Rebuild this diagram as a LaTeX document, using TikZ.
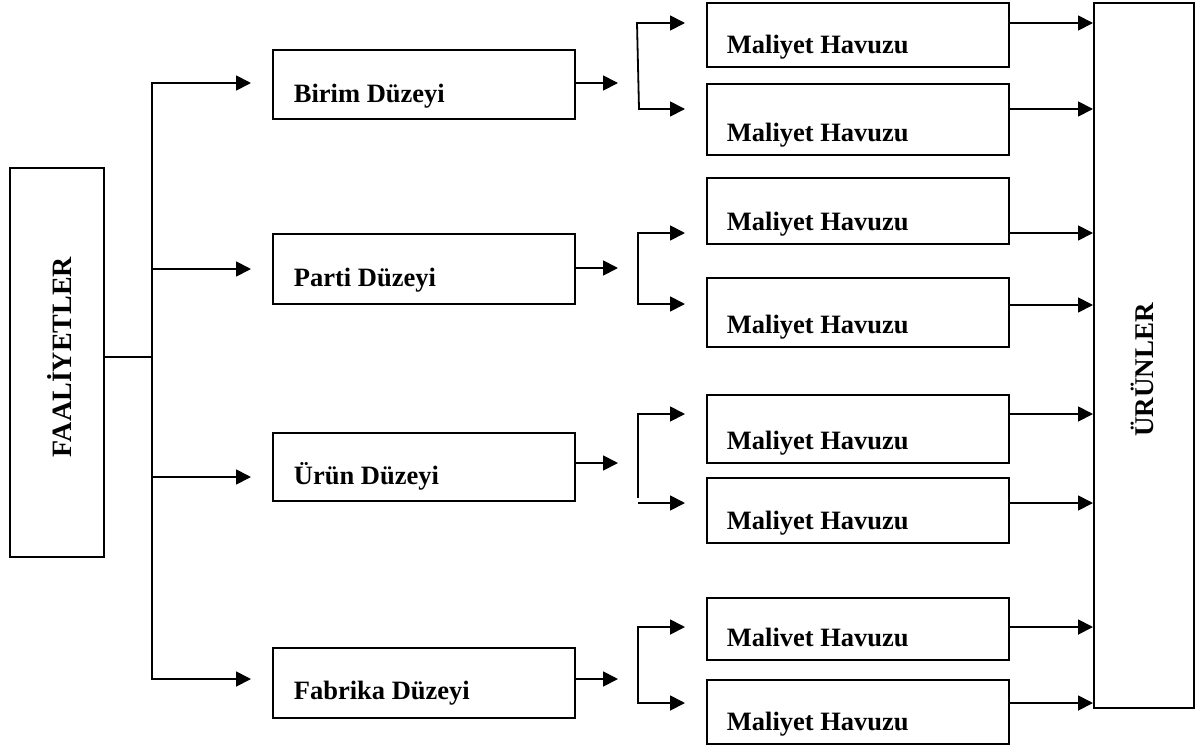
\documentclass[tikz,border=0pt]{standalone}
\usepackage{fontspec}
\setmainfont{Liberation Serif}
\usetikzlibrary{arrows.meta,calc}
\begin{document}
\begin{tikzpicture}[x=1pt,y=-1pt,line width=1.8pt,
  box/.style={draw,rectangle,inner sep=0pt,anchor=north west},
  lbl/.style={anchor=base west,inner sep=0pt,font=\bfseries\fontsize{26.5}{30}\selectfont},
  vlbl/.style={anchor=base,inner sep=0pt,rotate=90},
  tip/.style={Triangle[length=15pt,width=15pt]},
  arr/.style={-{Triangle[length=15pt,width=15pt]}},
  arrs/.style={{Triangle[length=15pt,width=15pt]}-{Triangle[length=15pt,width=15pt]}}]
\useasboundingbox (0,0) rectangle (1196,747);

% outer boxes
\node[box,minimum width=94pt,minimum height=389pt] (faal) at (9,167) {};
\node[vlbl,font=\bfseries\fontsize{28}{30}\selectfont] at (71,357) {FAALİYETLER};
\node[box,minimum width=100pt,minimum height=705pt] (urunler) at (1093,2) {};
\node[vlbl,font=\bfseries\fontsize{27}{30}\selectfont] at (1153,370) {ÜRÜNLER};

% activity levels
\node[box,minimum width=302pt,minimum height=69pt] (birim) at (272,49) {};
\node[lbl] at ($(birim.south west)+(21,-17)$) {Birim Düzeyi};
\node[box,minimum width=302pt,minimum height=70pt] (parti) at (272,233) {};
\node[lbl] at ($(parti.south west)+(21,-18)$) {Parti Düzeyi};
\node[box,minimum width=302pt,minimum height=68pt] (urun) at (272,432) {};
\node[lbl] at ($(urun.south west)+(21,-17)$) {Ürün Düzeyi};
\node[box,minimum width=302pt,minimum height=70pt] (fabrika) at (272,647) {};
\node[lbl] at ($(fabrika.south west)+(21,-19)$) {Fabrika Düzeyi};

% cost pools
\node[box,minimum width=302pt,minimum height=64pt] (m1a) at (706,2) {};
\node[lbl] at ($(m1a.south west)+(20,-14)$) {Maliyet Havuzu};
\node[box,minimum width=302pt,minimum height=71pt] (m1b) at (706,83) {};
\node[lbl] at ($(m1b.south west)+(20,-14)$) {Maliyet Havuzu};
\node[box,minimum width=302pt,minimum height=66pt] (m2a) at (706,177) {};
\node[lbl] at ($(m2a.south west)+(20,-14)$) {Maliyet Havuzu};
\node[box,minimum width=302pt,minimum height=69pt] (m2b) at (706,277) {};
\node[lbl] at ($(m2b.south west)+(20,-14)$) {Maliyet Havuzu};
\node[box,minimum width=302pt,minimum height=68pt] (m3a) at (706,394) {};
\node[lbl] at ($(m3a.south west)+(20,-14)$) {Maliyet Havuzu};
\node[box,minimum width=302pt,minimum height=65pt] (m3b) at (706,477) {};
\node[lbl] at ($(m3b.south west)+(20,-14)$) {Maliyet Havuzu};
\node[box,minimum width=302pt,minimum height=62pt] (m4a) at (706,597) {};
\node[lbl] at ($(m4a.south west)+(20,-14)$) {Malivet Havuzu};
\node[box,minimum width=302pt,minimum height=64pt] (m4b) at (706,679) {};
\node[lbl] at ($(m4b.south west)+(20,-14)$) {Maliyet Havuzu};

% trunk from the activities box
\coordinate (j) at (152,357);
\coordinate (tTop) at (152,83);
\coordinate (tBot) at (152,679);
\draw (faal.east |- j) -- (j);
\draw[arrs] ([xshift=-21pt]birim.west |- tTop) -- (tTop) -- (tBot) -- ([xshift=-21pt]fabrika.west |- tBot);
\draw[arr] (152,269) -- ([xshift=-21pt]parti.west |- 0,269);
\draw[arr] (152,477) -- ([xshift=-21pt]urun.west |- 0,477);

% level boxes to brackets
\draw[arr] (birim.east |- 0,83) -- (618,83);
\draw[arr] (parti.east |- 0,268) -- (618,268);
\draw[arr] (urun.east |- 0,463) -- (618,463);
\draw[arr] (fabrika.east |- 0,679) -- (618,679);

% brackets
\draw[arrs] ([xshift=-21pt]m1a.west |- 0,23) -- (637,23) -- (639,109) -- ([xshift=-21pt]m1b.west |- 0,109);
\draw[arrs] ([xshift=-21pt]m2a.west |- 0,233) -- (638,233) -- (638,304) -- ([xshift=-21pt]m2b.west |- 0,304);
\draw[arr] (638,498) -- (638,414) -- ([xshift=-21pt]m3a.west |- 0,414);
\draw[arr] (638,503) -- ([xshift=-21pt]m3b.west |- 0,503);
\draw[arrs] ([xshift=-21pt]m4a.west |- 0,627) -- (638,627) -- (638,703) -- ([xshift=-21pt]m4b.west |- 0,703);

% cost pools to products
\draw[arr] (m1a.east |- 0,23) -- (urunler.west |- 0,23);
\draw[arr] (m1b.east |- 0,109) -- (urunler.west |- 0,109);
\draw[arr] (m2a.east |- 0,233) -- (urunler.west |- 0,233);
\draw[arr] (m2b.east |- 0,305) -- (urunler.west |- 0,305);
\draw[arr] (m3a.east |- 0,414) -- (urunler.west |- 0,414);
\draw[arr] (m3b.east |- 0,503) -- (urunler.west |- 0,503);
\draw[arr] (m4a.east |- 0,627) -- (urunler.west |- 0,627);
\draw[arr] (m4b.east |- 0,703) -- (urunler.west |- 0,703);
\end{tikzpicture}
\end{document}
